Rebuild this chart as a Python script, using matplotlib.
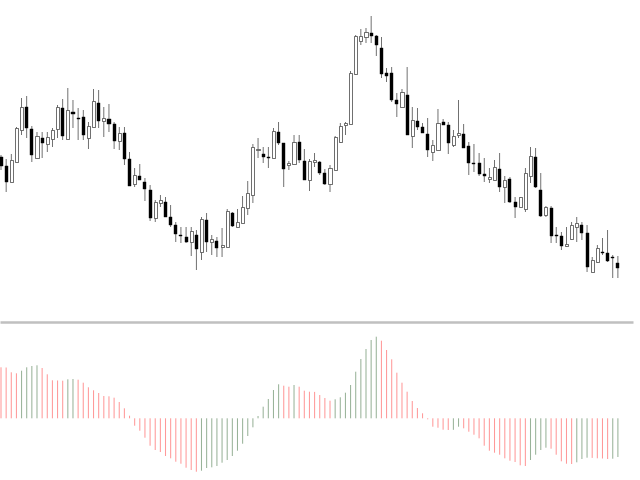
import numpy as np
import matplotlib
matplotlib.use("Agg")
import matplotlib.pyplot as plt
from matplotlib.lines import Line2D

# candle prices (arbitrary price units)
opens = [163, 154, 138, 158, 190, 213, 191, 162, 182, 176,
         181, 191, 212, 181, 208, 202, 203, 182, 193, 217,
         199, 201, 196, 179, 187, 161, 136, 144, 138, 130,
         102, 117, 118, 103, 95, 85, 83, 78, 85, 68,
         100, 78, 79, 73, 73, 107, 93, 97, 112, 125,
         170, 166, 163, 162, 188, 177, 155, 156, 178, 159,
         140, 158, 158, 147, 136, 150, 178, 195, 196, 246,
         279, 283, 287, 284, 272, 247, 247, 220, 213, 225,
         184, 199, 193, 186, 168, 170, 198, 195, 175, 185,
         186, 174, 157, 157, 146, 141, 140, 151, 133, 141,
         118, 113, 111, 144, 163, 130, 105, 112, 85, 84,
         74, 81, 93, 95, 87, 48, 58, 68, 67, 63,
         57]
highs = [165, 161, 166, 193, 222, 224, 194, 188, 188, 188,
         192, 215, 221, 232, 220, 212, 210, 198, 231, 230,
         213, 216, 198, 193, 193, 168, 152, 156, 142, 135,
         120, 125, 123, 115, 98, 93, 93, 93, 90, 103,
         107, 85, 83, 92, 111, 108, 111, 124, 139, 176,
         182, 173, 173, 192, 198, 177, 159, 185, 185, 171,
         161, 167, 159, 151, 155, 184, 197, 198, 249, 285,
         291, 292, 304, 285, 283, 252, 253, 227, 231, 253,
         213, 212, 197, 202, 180, 211, 201, 198, 190, 220,
         196, 178, 176, 167, 162, 152, 160, 167, 144, 143,
         123, 123, 152, 173, 172, 147, 114, 114, 93, 88,
         93, 98, 103, 98, 95, 63, 75, 82, 90, 65,
         64]
lows = [150, 128, 138, 158, 185, 182, 158, 162, 162, 168,
        173, 182, 180, 181, 192, 180, 180, 171, 193, 192,
        183, 188, 171, 170, 155, 134, 133, 140, 119, 99,
        98, 113, 103, 93, 78, 77, 77, 64, 50, 60,
        68, 65, 63, 63, 73, 93, 93, 97, 105, 117,
        162, 157, 152, 162, 175, 133, 150, 156, 157, 140,
        129, 153, 145, 135, 128, 150, 177, 185, 196, 245,
        275, 277, 277, 264, 242, 238, 218, 203, 213, 185,
        172, 190, 187, 163, 159, 170, 195, 166, 173, 182,
        172, 145, 148, 144, 138, 137, 140, 128, 117, 117,
        102, 113, 108, 137, 132, 103, 103, 77, 77, 70,
        73, 80, 78, 80, 48, 48, 57, 65, 58, 42,
        42]
closes = [154, 138, 160, 192, 213, 192, 165, 184, 177, 183,
          190, 213, 184, 210, 206, 201, 185, 194, 219, 199,
          202, 196, 179, 187, 161, 134, 145, 140, 131, 102,
          118, 120, 103, 95, 86, 84, 78, 89, 71, 101,
          78, 81, 72, 75, 109, 94, 98, 113, 127, 173,
          171, 163, 162, 189, 177, 151, 157, 178, 160, 140,
          159, 160, 147, 136, 152, 183, 194, 197, 247, 284,
          284, 288, 284, 275, 246, 244, 220, 216, 228, 185,
          200, 193, 187, 170, 175, 197, 195, 177, 184, 187,
          172, 157, 156, 146, 144, 143, 153, 133, 140, 118,
          113, 123, 147, 164, 133, 104, 113, 84, 84, 74,
          76, 95, 97, 87, 53, 60, 72, 67, 59, 62,
          52]

# oscillator histogram
osc = [51, 50.8, 46, 45, 47.6, 51, 52.3, 53, 50.3, 44,
       38, 37.8, 37.6, 39, 39.3, 38.6, 35.6, 31, 28, 25.3,
       22.3, 22, 20.6, 16.3, 10, 2.6, -7.4, -12.4, -19.4, -27.4,
       -31.7, -33.7, -37.7, -40, -43.4, -45.4, -49.4, -51.7, -53.4, -52.4,
       -49.7, -49, -47.7, -44.4, -41.7, -37.7, -32.4, -25.4, -17.7, -9,
       2.3, 11.6, 19.3, 28.3, 34, 32.6, 31.6, 33.3, 31.6, 27.6,
       26.6, 26.4, 23.3, 20.3, 17.6, 19, 21, 25.6, 33.3, 46.6,
       59.3, 69.3, 78.3, 81.6, 77.6, 68.3, 59, 45.6, 35.6, 26.6,
       17.3, 10.3, 5, -1, -8.4, -9.4, -11.4, -11.7, -11.5, -8.4,
       -10, -13.4, -16.4, -20, -27.4, -32.4, -34.4, -36.4, -40, -42.4,
       -43.7, -47, -47.7, -41.7, -36.4, -31.7, -29.4, -30.4, -36.4, -43,
       -45.4, -45.7, -44, -40.7, -39.4, -39.6, -40, -40.2, -40.7, -40.4,
       -38.7]


def draw_candles(ax, o, h, l, c):
    x = np.arange(len(o))
    o = np.array(o, float)
    c = np.array(c, float)
    ax.vlines(x, l, h, color="#555555", linewidth=0.6, snap=False, zorder=1)
    up = c >= o
    bottom = np.minimum(o, c)
    height = np.maximum(np.abs(c - o), 0.9)
    ax.bar(x[up], height[up], bottom=bottom[up], width=0.6,
           color="white", edgecolor="#555555", linewidth=0.6, zorder=2)
    ax.bar(x[~up], height[~up], bottom=bottom[~up], width=0.6,
           color="black", edgecolor="black", linewidth=0.3, zorder=2)


def draw_histogram(ax, values):
    v = np.array(values, float)
    prev = np.concatenate([[v[0]], v[:-1]])
    colors = np.where(v > prev, "#99b399", "#ff9999")
    ax.vlines(np.arange(len(v)), 0, v, colors=colors, linewidth=0.75,
              snap=False)


def main():
    fig = plt.figure(figsize=(6.4, 4.8), dpi=100)
    xlim = (-0.195, 124.3)

    ax_top = fig.add_axes([0, 160 / 480, 1, 320 / 480])
    draw_candles(ax_top, opens, highs, lows, closes)
    ax_top.set_xlim(*xlim)
    ax_top.set_ylim(0, 320)
    ax_top.axis("off")

    ax_bot = fig.add_axes([0, 0, 1, 156 / 480])
    draw_histogram(ax_bot, osc)
    ax_bot.set_xlim(*xlim)
    ax_bot.set_ylim(-61.7, 94.3)
    ax_bot.axis("off")

    # separator between the panes
    y_sep = 1 - 322 / 480
    fig.add_artist(Line2D([0, 633 / 640], [y_sep, y_sep], color="#c0c0c0",
                          linewidth=1.8, solid_capstyle="butt",
                          transform=fig.transFigure))

    fig.savefig("out.png", dpi=100)


if __name__ == "__main__":
    main()
